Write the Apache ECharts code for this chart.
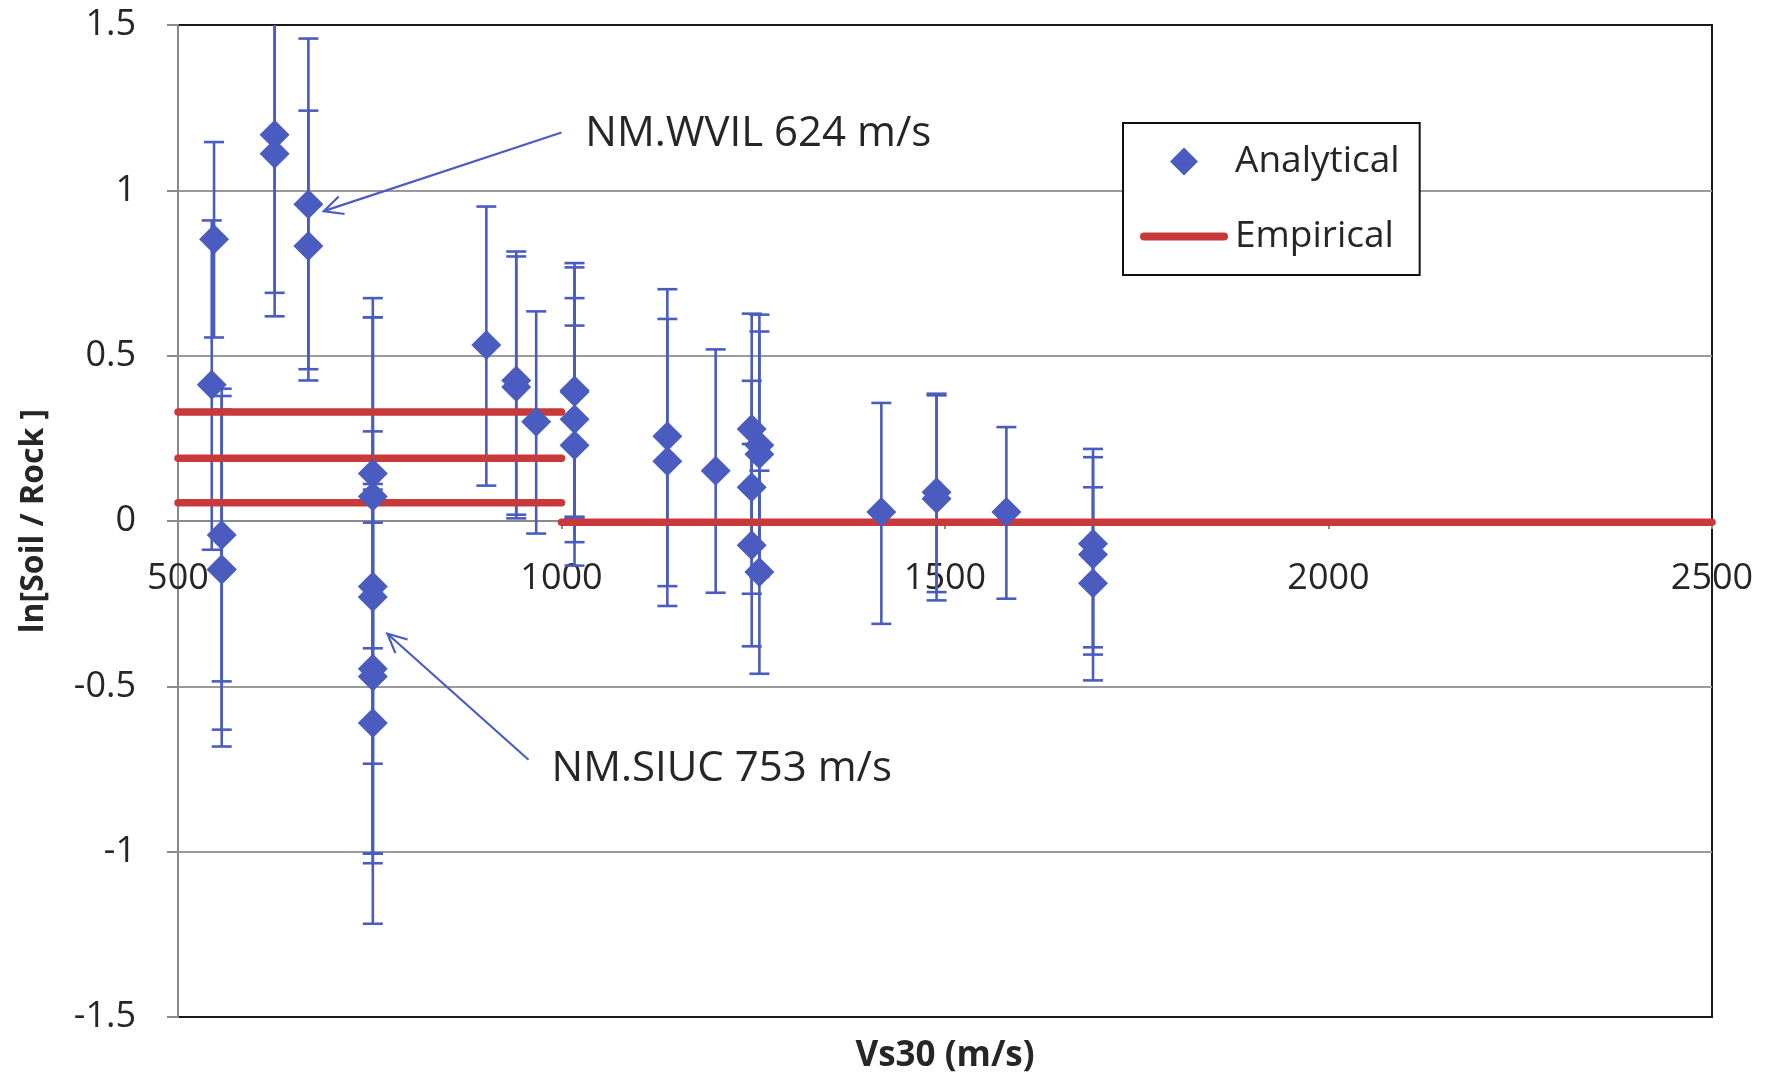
<!DOCTYPE html>
<html><head><meta charset="utf-8">
<script src="https://cdn.jsdelivr.net/npm/echarts@6/dist/echarts.min.js"></script>
<style>html,body{margin:0;padding:0;background:#fff}#c{width:1774px;height:1074px}</style>
</head><body><div id="c"></div>
<script>
// ---- data ----
const xTicks = [500, 1000, 1500, 2000, 2500];
const yTicks = [-1.5, -1, -0.5, 0, 0.5, 1, 1.5];
const vs30    = [547, 544, 557, 557, 557, 626, 626, 670, 670, 754, 754, 754, 754, 754, 754, 754, 902, 941, 941, 967, 1017, 1017, 1017, 1017, 1138, 1138, 1201, 1248, 1248, 1248, 1258, 1258, 1258, 1417, 1489, 1489, 1580, 1693, 1693, 1693];
const lnRatio = [0.852, 0.412, -0.042, -0.147, -0.147, 1.168, 1.111, 0.958, 0.832, 0.144, 0.074, -0.198, -0.230, -0.447, -0.470, -0.611, 0.532, 0.425, 0.405, 0.300, 0.395, 0.390, 0.308, 0.229, 0.256, 0.181, 0.152, 0.278, 0.102, -0.073, 0.229, 0.202, -0.154, 0.027, 0.087, 0.067, 0.027, -0.069, -0.101, -0.188];
const errLow  = [0.555, -0.087, -0.485, -0.682, -0.631, 0.690, 0.619, 0.459, 0.425, -0.385, -0.468, -1.006, -0.734, -1.006, -1.035, -1.218, 0.107, 0.019, 0.008, -0.038, 0.010, 0.013, -0.064, -0.135, -0.197, -0.257, -0.217, -0.071, -0.220, -0.379, -0.166, -0.169, -0.462, -0.311, -0.215, -0.240, -0.235, -0.382, -0.404, -0.482];
const errHigh = [1.146, 0.909, 0.400, 0.378, 0.337, 1.646, 1.603, 1.459, 1.241, 0.674, 0.616, 0.616, 0.271, 0.112, 0.095, -0.005, 0.951, 0.815, 0.800, 0.634, 0.780, 0.767, 0.674, 0.591, 0.701, 0.611, 0.519, 0.627, 0.424, 0.233, 0.624, 0.573, 0.152, 0.357, 0.385, 0.380, 0.284, 0.218, 0.193, 0.102];
const empStartX = [500, 500, 500, 1000];
const empEndX   = [1000, 1000, 1000, 2500];
const empLevel  = [0.33, 0.19, 0.055, -0.004];
const annotText    = ['NM.WVIL 624 m/s', 'NM.SIUC 753 m/s'];
const annotTextPos = [[1031, 1.170], [987, -0.751]];
const arrowFrom    = [[1000, 1.175], [957, -0.722]];
const arrowTo      = [[690, 0.937], [773, -0.341]];

const BLUE = '#4a5cbf';
const RED = '#c8393a';
const TXT = '#262626';
const FONT = 'Open Sans';

const GRID = {left: 178, right: 62, top: 25, bottom: 57};
const chartH = 1074;

const chart = echarts.init(document.getElementById('c'), null, {renderer: 'canvas'});

const series = [];
series.push({
  name: 'Analytical', type: 'scatter', z: 4,
  symbol: 'diamond', symbolSize: 30,
  itemStyle: {color: BLUE, opacity: 1},
  data: vs30.map((x, i) => [x, lnRatio[i]])
});
series.push({
  name: 'Analytical error', type: 'custom', z: 2, clip: true,
  encode: {x: 0, y: [1, 2, 3]},
  data: vs30.map((x, i) => [x, lnRatio[i], errLow[i], errHigh[i]]),
  renderItem: function (params, api) {
    const x = api.value(0);
    const pLo = api.coord([x, api.value(2)]);
    const pHi = api.coord([x, api.value(3)]);
    const cw = 10;
    const st = {stroke: BLUE, lineWidth: 2.6, fill: null};
    return {type: 'group', children: [
      {type: 'line', shape: {x1: pLo[0], y1: pLo[1], x2: pHi[0], y2: pHi[1]}, style: st},
      {type: 'line', shape: {x1: pLo[0] - cw, y1: pLo[1], x2: pLo[0] + cw, y2: pLo[1]}, style: st},
      {type: 'line', shape: {x1: pHi[0] - cw, y1: pHi[1], x2: pHi[0] + cw, y2: pHi[1]}, style: st}
    ]};
  }
});
empLevel.forEach((lv, i) => {
  series.push({
    name: 'Empirical', type: 'line', z: 3, symbol: 'none', showSymbol: false,
    clip: true, silent: true,
    lineStyle: {color: RED, width: 7.5, cap: 'round'},
    itemStyle: {color: RED},
    data: [[empStartX[i], lv], [empEndX[i], lv]]
  });
});

const yMin = yTicks[0], yMax = yTicks[yTicks.length - 1];
// place the x axis line where y = 0 (as in the reference)
const plotH = chartH - GRID.top - GRID.bottom;
const zeroOffset = -plotH * (0 - yMin) / (yMax - yMin);

chart.setOption({
  animation: false,
  backgroundColor: '#fff',
  grid: Object.assign({containLabel: false, outerBoundsMode: 'none',
    show: true, borderColor: '#1a1a1a', borderWidth: 2, backgroundColor: 'transparent'}, GRID),
  xAxis: {
    type: 'value', min: xTicks[0], max: xTicks[xTicks.length - 1], interval: 500,
    offset: zeroOffset,
    axisLine: {show: true, onZero: false, lineStyle: {color: '#8a8a8a', width: 2}},
    axisTick: {show: true, length: 8, lineStyle: {color: '#8a8a8a', width: 2}},
    axisLabel: {fontSize: 36, color: TXT, fontFamily: FONT, margin: 40, formatter: v => String(v)},
    splitLine: {show: false},
    name: 'Vs30 (m/s)', nameLocation: 'middle', nameGap: 518,
    nameTextStyle: {fontSize: 35, fontWeight: 'bold', color: TXT, fontFamily: FONT}
  },
  yAxis: {
    type: 'value', min: yMin, max: yMax, interval: 0.5,
    axisLine: {show: true, onZero: false, lineStyle: {color: '#8a8a8a', width: 2}},
    axisTick: {show: true, length: 11, lineStyle: {color: '#8a8a8a', width: 2}},
    axisLabel: {fontSize: 36, color: TXT, fontFamily: FONT, margin: 42, formatter: v => String(v)},
    splitLine: {show: true, showMinLine: false, showMaxLine: false, lineStyle: {color: '#9a9a9a', width: 2}},
    name: 'ln[Soil / Rock ]', nameLocation: 'middle', nameRotate: 90, nameGap: 128,
    nameTextStyle: {fontSize: 32, fontWeight: 'bold', color: TXT, fontFamily: FONT}
  },
  legend: {
    data: [
      {name: 'Analytical', icon: 'path://M0,-10L10,0L0,10L-10,0Z', itemStyle: {color: BLUE}},
      {name: 'Empirical', icon: 'path://M4,0L84,0A4,4 0 0 1 84,8L4,8A4,4 0 0 1 4,0Z', itemStyle: {color: RED, borderWidth: 0}}
    ],
    orient: 'vertical', symbolKeepAspect: true,
    left: 1123, top: 123,
    itemWidth: 88, itemHeight: 28, itemGap: 38,
    padding: [20, 20, 20, 17],
    borderColor: '#111', borderWidth: 2, backgroundColor: '#fff',
    textStyle: {fontSize: 37, color: TXT, fontFamily: FONT, padding: [0, 0, 0, 2]},
    selectedMode: false
  },
  series: series
});

// annotations (text + arrows), positioned in data coordinates
const gfx = [];
annotText.forEach((t, i) => {
  const p = chart.convertToPixel({gridIndex: 0}, annotTextPos[i]);
  gfx.push({type: 'text', x: p[0], y: p[1], z: 10,
    style: {text: t, fontSize: 42, fontFamily: FONT, fill: TXT, align: 'left', verticalAlign: 'middle'}});
  const s = chart.convertToPixel({gridIndex: 0}, arrowFrom[i]);
  const e = chart.convertToPixel({gridIndex: 0}, arrowTo[i]);
  const dx = s[0] - e[0], dy = s[1] - e[1];
  const len = Math.hypot(dx, dy);
  const ux = dx / len, uy = dy / len;
  const L = 21, a = 26 * Math.PI / 180;
  const r1 = [ux * Math.cos(a) - uy * Math.sin(a), ux * Math.sin(a) + uy * Math.cos(a)];
  const r2 = [ux * Math.cos(-a) - uy * Math.sin(-a), ux * Math.sin(-a) + uy * Math.cos(-a)];
  const st = {stroke: BLUE, lineWidth: 2.2, fill: null};
  gfx.push({type: 'line', z: 10, shape: {x1: s[0], y1: s[1], x2: e[0], y2: e[1]}, style: st});
  gfx.push({type: 'polyline', z: 10, shape: {points: [[e[0] + r1[0] * L, e[1] + r1[1] * L], [e[0], e[1]], [e[0] + r2[0] * L, e[1] + r2[1] * L]]}, style: st});
});
chart.setOption({graphic: gfx});
</script>
</body></html>
